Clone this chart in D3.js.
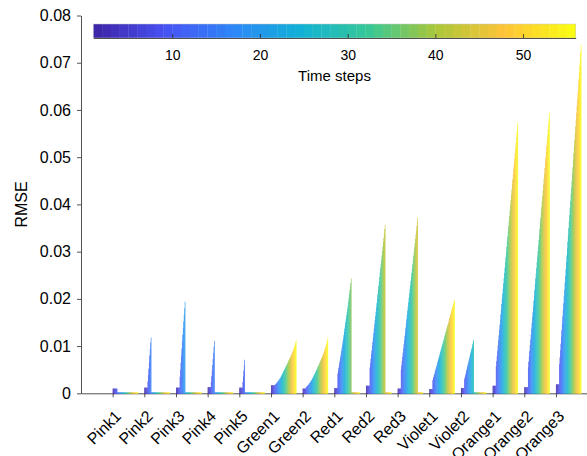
<!DOCTYPE html>
<html lang="en">
<head>
<meta charset="utf-8">
<title>RMSE per time step</title>
<script src="https://cdn.jsdelivr.net/npm/d3@7"></script>
<style>
  body { margin: 0; background: #fff; }
  svg  { display: block; font-family: "Liberation Sans", Arial, Helvetica, sans-serif; }
</style>
</head>
<body>
<div id="chart"></div>

<script>
////////////////////////////////////////////////// DATA
const categories = ["Pink1", "Pink2", "Pink3", "Pink4", "Pink5", "Green1", "Green2",
                    "Red1", "Red2", "Red3", "Violet1", "Violet2", "Orange1", "Orange2", "Orange3"];
const timeSteps = d3.range(1, 56);          // 55 time steps per group
const yTicks = [0, 0.01, 0.02, 0.03, 0.04, 0.05, 0.06, 0.07, 0.08];
const cbTicks = [10, 20, 30, 40, 50];

// RMSE for time steps 1..55
const pink1 = [0.0010,0.0010,0.0010,0.0010,0.0010,0.0010,0.0010,0.0010,0.0010,0.0010,
  0,0,0,0,0,0,0,0,0,0, 0,0,0,0,0,0,0,0,0,0, 0,0,0,0,0,0,0,0,0,0, 0,0,0,0,0,0,0,0,0,0, 0,0,0,0,0];
const pink2 = [0.0012,0.0012,0.0012,0.0012,0.0012,0.0012,0.0012,
  0.0025,0.0038,0.0052,0.0066,0.0080,0.0094,0.0107,0.0118,
  0,0,0,0,0,0,0,0,0,0, 0,0,0,0,0,0,0,0,0,0, 0,0,0,0,0,0,0,0,0,0, 0,0,0,0,0,0,0,0,0,0];
const pink3 = [0.0012,0.0012,0.0012,0.0012,0.0012,0.0012,0.0012,0.0012,
  0.0035,0.0050,0.0065,0.0080,0.0095,0.0110,0.0124,0.0138,0.0152,0.0166,0.0180,0.0194,
  0,0,0,0,0,0,0,0,0,0, 0,0,0,0,0,0,0,0,0,0, 0,0,0,0,0,0,0,0,0,0, 0,0,0,0,0];
const pink4 = [0.0013,0.0013,0.0013,0.0013,0.0013,0.0013,0.0013,
  0.0024,0.0036,0.0048,0.0060,0.0073,0.0086,0.0099,0.0111,
  0,0,0,0,0,0,0,0,0,0, 0,0,0,0,0,0,0,0,0,0, 0,0,0,0,0,0,0,0,0,0, 0,0,0,0,0,0,0,0,0,0];
const pink5 = [0.0012,0.0012,0.0012,0.0012,0.0012,0.0012,0.0012,
  0.0024,0.0036,0.0048,0.0060,0.0071,
  0,0,0,0,0,0,0,0,0,0, 0,0,0,0,0,0,0,0,0,0, 0,0,0,0,0,0,0,0,0,0, 0,0,0,0,0,0,0,0,0,0, 0,0,0];
const green1 = [0.0017,0.0017,0.0017,0.0017,0.0017,0.0017,0.0017,0.0017,0.0017,
  0.0019,0.0020,0.0021,0.0022,0.0023,0.0025,0.0026,0.0027,0.0029,0.0030,
  0.0032,0.0033,0.0035,0.0037,0.0039,0.0041,0.0043,0.0045,0.0047,0.0049,
  0.0051,0.0053,0.0055,0.0057,0.0059,0.0061,0.0063,0.0065,0.0067,0.0070,
  0.0072,0.0074,0.0076,0.0078,0.0080,0.0082,0.0085,0.0087,0.0089,0.0092,
  0.0095,0.0098,0.0101,0.0104,0.0108,0.0112];
const green2 = [0.0010,0.0010,0.0010,0.0010,0.0010,0.0010,0.0010,
  0.0013,0.0014,0.0015,
  0.0016,0.0017,0.0018,0.0020,0.0021,0.0022,0.0024,0.0025,0.0027,0.0028,
  0.0030,0.0032,0.0034,0.0036,0.0038,0.0040,0.0042,0.0044,0.0046,0.0048,
  0.0050,0.0052,0.0055,0.0057,0.0059,0.0061,0.0064,0.0066,0.0068,0.0071,
  0.0073,0.0075,0.0078,0.0080,0.0083,0.0085,0.0088,0.0091,0.0094,0.0097,
  0.0100,0.0104,0.0108,0.0112,0.0117];
const red1 = [0.0011,0.0011,0.0011,0.0011,0.0011,0.0011,0.0011,
  0.0042,0.0048,0.0054,
  0.0060,0.0066,0.0072,0.0078,0.0084,0.0090,0.0097,0.0103,0.0110,0.0116,
  0.0123,0.0130,0.0137,0.0144,0.0151,0.0158,0.0165,0.0172,0.0179,0.0186,
  0.0194,0.0202,0.0210,0.0218,0.0226,0.0234,0.0243,
  0,0,0,0,0,0,0,0,0,0, 0,0,0,0,0,0,0,0];
const red2 = [0.0016,0.0016,0.0016,0.0016,0.0016,0.0016,0.0016,0.0016,
  0.0055,0.0064,0.0073,0.0082,0.0091,0.0100,0.0109,0.0118,0.0127,0.0137,
  0.0146,0.0155,0.0164,0.0173,0.0182,0.0191,0.0201,0.0210,0.0219,0.0228,
  0.0237,0.0246,0.0256,0.0265,0.0274,0.0283,0.0292,0.0302,0.0311,0.0320,
  0.0329,0.0338,0.0348,0.0357,
  0,0,0,0,0,0,0,0,0,0, 0,0,0];
const red3 = [0.0010,0.0010,0.0010,0.0010,0.0010,0.0010,0.0010,
  0.0050,0.0059,0.0068,0.0077,0.0086,0.0095,0.0104,0.0113,0.0122,0.0130,
  0.0139,0.0148,0.0157,0.0166,0.0175,0.0184,0.0193,0.0202,0.0211,0.0220,
  0.0229,0.0238,0.0247,0.0255,0.0264,0.0273,0.0282,0.0291,0.0300,0.0309,
  0.0318,0.0327,0.0336,0.0345,0.0354,0.0363,0.0372,
  0,0,0,0,0,0,0,0,0,0, 0];
const violet1 = [0.0009,0.0009,0.0009,0.0009,0.0009,0.0009,0.0009,
  0.0028,0.0032,0.0035,0.0039,0.0042,0.0046,0.0050,0.0053,0.0057,0.0060,
  0.0064,0.0068,0.0071,0.0075,0.0078,0.0082,0.0086,0.0089,0.0093,0.0096,
  0.0100,0.0104,0.0107,0.0111,0.0114,0.0118,0.0122,0.0125,0.0129,0.0132,
  0.0136,0.0140,0.0143,0.0147,0.0150,0.0154,0.0158,0.0161,0.0165,0.0168,
  0.0172,0.0176,0.0179,0.0183,0.0186,0.0190,0.0194,0.0198];
const violet2 = [0.0011,0.0011,0.0011,0.0011,0.0011,0.0011,0.0011,
  0.0030,0.0034,0.0038,0.0042,0.0047,0.0051,0.0055,0.0059,0.0063,0.0067,
  0.0071,0.0075,0.0080,0.0084,0.0088,0.0092,0.0096,0.0100,0.0105,0.0109,0.0113,
  0,0,0,0,0,0,0,0,0,0, 0,0,0,0,0,0,0,0,0,0, 0,0,0,0,0,0,0];
const orange1 = [0.0016,0.0016,0.0016,0.0016,0.0016,0.0016,0.0016,
  0.0057,0.0068,0.0079,0.0090,0.0101,0.0112,0.0123,0.0134,0.0145,0.0156,
  0.0167,0.0178,0.0189,0.0200,0.0211,0.0222,0.0233,0.0244,0.0255,0.0266,
  0.0277,0.0288,0.0299,0.0310,0.0321,0.0332,0.0343,0.0354,0.0365,0.0376,
  0.0387,0.0398,0.0409,0.0420,0.0431,0.0442,0.0453,0.0464,0.0475,0.0486,
  0.0497,0.0508,0.0519,0.0530,0.0541,0.0552,0.0563,0.0574];
const orange2 = [0.0013,0.0013,0.0013,0.0013,0.0013,0.0013,0.0013,0.0013,
  0.0055,0.0067,0.0078,0.0090,0.0102,0.0114,0.0125,0.0137,0.0149,0.0161,
  0.0172,0.0184,0.0196,0.0207,0.0219,0.0231,0.0243,0.0254,0.0266,0.0278,
  0.0289,0.0301,0.0313,0.0325,0.0336,0.0348,0.0360,0.0371,0.0383,0.0395,
  0.0407,0.0418,0.0430,0.0442,0.0454,0.0465,0.0477,0.0489,0.0500,0.0512,
  0.0524,0.0536,0.0547,0.0559,0.0571,0.0582,0.0594];
const orange3 = [0.0019,0.0019,0.0019,0.0019,0.0019,0.0019,0.0019,
  0.0062,0.0076,0.0091,0.0105,0.0119,0.0134,0.0148,0.0163,0.0177,0.0191,
  0.0206,0.0220,0.0235,0.0249,0.0263,0.0278,0.0292,0.0307,0.0321,0.0335,
  0.0350,0.0364,0.0378,0.0393,0.0407,0.0422,0.0436,0.0450,0.0465,0.0479,
  0.0494,0.0508,0.0522,0.0537,0.0551,0.0565,0.0580,0.0594,0.0609,0.0623,
  0.0637,0.0652,0.0666,0.0680,0.0695,0.0709,0.0724,0.0738];

const series = [pink1, pink2, pink3, pink4, pink5, green1, green2,
                red1, red2, red3, violet1, violet2, orange1, orange2, orange3];

// parula(8) colour stops
const parula = ["#3e26a8", "#4852f4", "#2d87f7", "#11b1d6", "#37c897", "#abc739", "#fec338", "#f9fb14"];


////////////////////////////////////////////////// SETUP
const width = 587, height = 456;
const axisColor = "#262626";

const svg = d3.select("#chart").append("svg")
    .attr("width", width)
    .attr("height", height);

const x = d3.scaleLinear().domain([0, 16]).range([81, 587.6]);
const step = x(1) - x(0);
const xInner = d3.scaleBand().domain(timeSteps).range([0, step * 0.8]);
const y = d3.scaleLinear().domain([0, 0.08]).range([393.3, 15.5]);
const color = d3.scaleLinear()
    .domain(parula.map((d, i) => 1 + i * 54 / 7))
    .range(parula);


////////////////////////////////////////////////// AXES
const yAxis = svg.append("g")
    .attr("transform", `translate(${x(0)},0)`)
    .call(d3.axisLeft(y).tickValues(yTicks).tickSize(4).tickSizeOuter(0).tickPadding(6)
        .tickFormat(d => d === 0 ? "0" : d3.format(".2f")(d)));

const xAxis = svg.append("g")
    .attr("transform", `translate(0,${y(0)})`)
    .call(d3.axisBottom(x).tickValues(d3.range(1, 16)).tickSize(4).tickSizeOuter(0)
        .tickFormat(i => categories[i - 1]));

xAxis.selectAll("text")
    .attr("y", 0)
    .attr("dy", "0.35em")
    .attr("text-anchor", "end")
    .attr("transform", "translate(5,20) rotate(-45)");

[yAxis, xAxis].forEach(g => {
    g.attr("font-family", null).attr("font-size", null);
    g.selectAll("path, line").attr("stroke", axisColor).attr("stroke-width", 0.8);
    g.selectAll("text").attr("fill", "#000").style("font-size", "16px");
});

svg.append("text")
    .attr("transform", `translate(27,${(y(0) + y(0.08)) / 2}) rotate(-90)`)
    .attr("text-anchor", "middle")
    .style("font-size", "16px")
    .text("RMSE");


////////////////////////////////////////////////// BARS
const group = svg.append("g")
    .selectAll("g")
    .data(series)
    .join("g")
    .attr("transform", (d, i) => `translate(${x(i + 1)},0)`);

group.selectAll("rect")
    .data(d => d.map((v, j) => ({t: timeSteps[j], v: v})))
    .join("rect")
    .attr("x", d => xInner(d.t))
    .attr("width", xInner.bandwidth() + 0.15)
    .attr("y", d => Math.min(y(d.v), y(0) - 1))
    .attr("height", d => y(0) + 0.5 - Math.min(y(d.v), y(0) - 1))
    .attr("fill", d => color(d.t));


////////////////////////////////////////////////// COLORBAR
const cb = d3.scaleLinear().domain([1, 56]).range([93.3, 575.7]);
const cbTop = 24, cbH = 14;

svg.append("g")
    .selectAll("rect")
    .data(timeSteps)
    .join("rect")
    .attr("x", d => cb(d))
    .attr("width", d => cb(d + 1) - cb(d) + 0.3)
    .attr("y", cbTop)
    .attr("height", cbH)
    .attr("fill", d => color(d));

svg.append("rect")
    .attr("x", cb(1)).attr("y", cbTop)
    .attr("width", cb(56) - cb(1)).attr("height", cbH)
    .attr("fill", "none").attr("stroke", "#c8c8c8").attr("stroke-width", 0.5);

const cbAxis = svg.append("g")
    .attr("transform", `translate(0,${cbTop + cbH})`)
    .call(d3.axisBottom(cb).tickValues(cbTicks).tickSize(-4).tickSizeOuter(0).tickPadding(12));

cbAxis.attr("font-family", null).attr("font-size", null);
cbAxis.selectAll("path, line").attr("stroke", axisColor).attr("stroke-width", 0.8);
cbAxis.selectAll("text").attr("fill", "#000").style("font-size", "14px");

svg.append("text")
    .attr("x", (cb(1) + cb(56)) / 2)
    .attr("y", 81)
    .attr("text-anchor", "middle")
    .style("font-size", "15px")
    .text("Time steps");
</script>
</body>
</html>
